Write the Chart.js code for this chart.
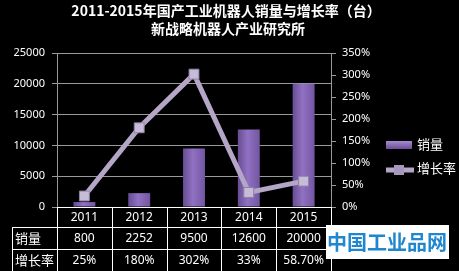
<!DOCTYPE html>
<html>
<head>
<meta charset="utf-8">
<script src="https://cdn.jsdelivr.net/npm/chart.js@4"></script>
<style>
  html, body { margin: 0; padding: 0; background: #000; }
  #wrap { width: 459px; height: 271px; position: relative; }
</style>
</head>
<body>
<div id="wrap"><canvas id="salesChart" width="459" height="271"></canvas></div>
<script>
// data
const years = ["2011", "2012", "2013", "2014", "2015"];
const sales = [800, 2252, 9500, 12600, 20000];
const growth = [25, 180, 302, 33, 58.7];
const salesText = ["800", "2252", "9500", "12600", "20000"];
const growthText = ["25%", "180%", "302%", "33%", "58.70%"];
const titleLines = ["2011-2015年国产工业机器人销量与增长率（台）", "新战略机器人产业研究所"];

const FONT = "'Noto Sans', 'Noto Sans CJK SC', sans-serif";
const CJK = "'Noto Sans CJK SC', sans-serif";

function barFill(ctx) {
  const chart = ctx.chart;
  const xs = chart.scales && chart.scales.x;
  if (!xs || ctx.dataIndex === undefined) return "#7a5ca8";
  const cx = xs.getPixelForValue(ctx.dataIndex);
  if (!isFinite(cx)) return "#7a5ca8";
  const w = 22;
  const g = chart.ctx.createLinearGradient(cx - w / 2, 0, cx + w / 2, 0);
  g.addColorStop(0, "#674d93");
  g.addColorStop(0.45, "#9071c2");
  g.addColorStop(1, "#7356a2");
  return g;
}

// background, title, table, legend, watermark
const decor = {
  id: "decor",
  beforeDraw(chart) {
    const c = chart.ctx;
    c.save();
    c.fillStyle = "#000";
    c.fillRect(0, 0, chart.width, chart.height);
    c.restore();
  },
  afterDraw(chart) {
    const c = chart.ctx;
    const x = chart.scales.x;
    const area = chart.chartArea;
    c.save();
    // title
    c.fillStyle = "#fff";
    c.textAlign = "center";
    c.textBaseline = "middle";
    c.font = "bold 14px " + CJK;
    c.fillText(titleLines[0], 226, 11);
    c.fillText(titleLines[1], 228, 29);

    // table grid
    const top = area.bottom, r1 = 227, r2 = 249, bot = 271;
    const left = 12;
    const step = x.getPixelForValue(1) - x.getPixelForValue(0);
    const cols = [area.left];
    years.forEach((_, i) => cols.push(x.getPixelForValue(i) + step / 2));
    c.strokeStyle = "#fff";
    c.lineWidth = 1;
    c.beginPath();
    c.moveTo(area.left, top + 0.5); c.lineTo(area.right, top + 0.5);
    c.moveTo(left, r1 + 0.5); c.lineTo(area.right, r1 + 0.5);
    c.moveTo(left, r2 + 0.5); c.lineTo(area.right, r2 + 0.5);
    c.moveTo(left + 0.5, r1); c.lineTo(left + 0.5, bot);
    cols.forEach(cx => { c.moveTo(Math.round(cx) + 0.5, top); c.lineTo(Math.round(cx) + 0.5, bot); });
    c.stroke();

    c.font = "12px " + FONT;
    c.fillStyle = "#fff";
    c.textAlign = "center";
    years.forEach((y, i) => {
      const cx = x.getPixelForValue(i);
      c.fillText(y, cx, (top + r1) / 2 + 1);
      c.fillText(salesText[i], cx, (r1 + r2) / 2 + 1);
      c.fillText(growthText[i], cx, (r2 + bot) / 2 + 1);
    });
    c.textAlign = "left";
    c.font = "13px " + CJK;
    c.fillText("销量", 15, (r1 + r2) / 2);
    c.fillText("增长率", 15, (r2 + bot) / 2);

    // legend
    const lg = c.createLinearGradient(0, 141, 0, 149);
    lg.addColorStop(0, "#a58bd0");
    lg.addColorStop(1, "#6a4f96");
    c.fillStyle = lg;
    c.fillRect(386, 141, 26, 8);
    c.strokeStyle = "#b3a6c6";
    c.lineWidth = 5;
    c.beginPath();
    c.moveTo(386, 170); c.lineTo(414, 170);
    c.stroke();
    c.fillStyle = "#a897bd";
    c.fillRect(394, 165, 10, 10);
    c.fillStyle = "#fff";
    c.font = "13px " + CJK;
    c.textBaseline = "middle";
    c.fillText("销量", 417, 144);
    c.fillText("增长率", 417, 168);

    // watermark
    c.fillStyle = "#fff";
    c.fillRect(326, 225, 123, 34);
    c.fillStyle = "#1f86cf";
    c.font = "bold 20px " + CJK;
    c.textAlign = "center";
    c.fillText("中国工业品网", 387, 242);
    c.restore();
  }
};

new Chart(document.getElementById("salesChart"), {
  data: {
    labels: years,
    datasets: [
      {
        type: "line",
        label: "增长率",
        data: growth,
        yAxisID: "y1",
        order: 0,
        borderColor: "#b3a6c6",
        borderWidth: 5,
        pointStyle: "rect",
        pointRadius: 7,
        pointBackgroundColor: "#c7bcd8",
        pointBorderColor: "#8f7fa6",
        pointBorderWidth: 1,
        tension: 0
      },
      {
        type: "bar",
        label: "销量",
        data: sales,
        yAxisID: "y",
        order: 1,
        backgroundColor: barFill,
        barPercentage: 0.4,
        categoryPercentage: 1
      }
    ]
  },
  options: {
    responsive: false,
    animation: false,
    layout: { padding: { left: 0, top: 53, right: 83, bottom: 64 } },
    plugins: { legend: { display: false }, tooltip: { enabled: false } },
    scales: {
      x: { display: false, offset: true },
      y: {
        position: "left",
        min: 0, max: 25000,
        ticks: { stepSize: 5000, color: "#fff", padding: 7, font: { size: 11, family: FONT }, callback: v => String(v) },
        grid: { color: "#9a9a9a", tickLength: 5, tickColor: "#9a9a9a" },
        border: { color: "#9a9a9a" },
        afterFit(s) { s.width = 57; }
      },
      y1: {
        position: "right",
        min: 0, max: 350,
        ticks: { stepSize: 50, color: "#fff", padding: 6, font: { size: 11, family: FONT }, callback: v => v + "%" },
        grid: { drawOnChartArea: false, tickLength: 5, color: "#9a9a9a" },
        border: { color: "#9a9a9a" },
        afterFit(s) { s.width = 45; }
      }
    }
  },
  plugins: [decor]
});
</script>
</body>
</html>
